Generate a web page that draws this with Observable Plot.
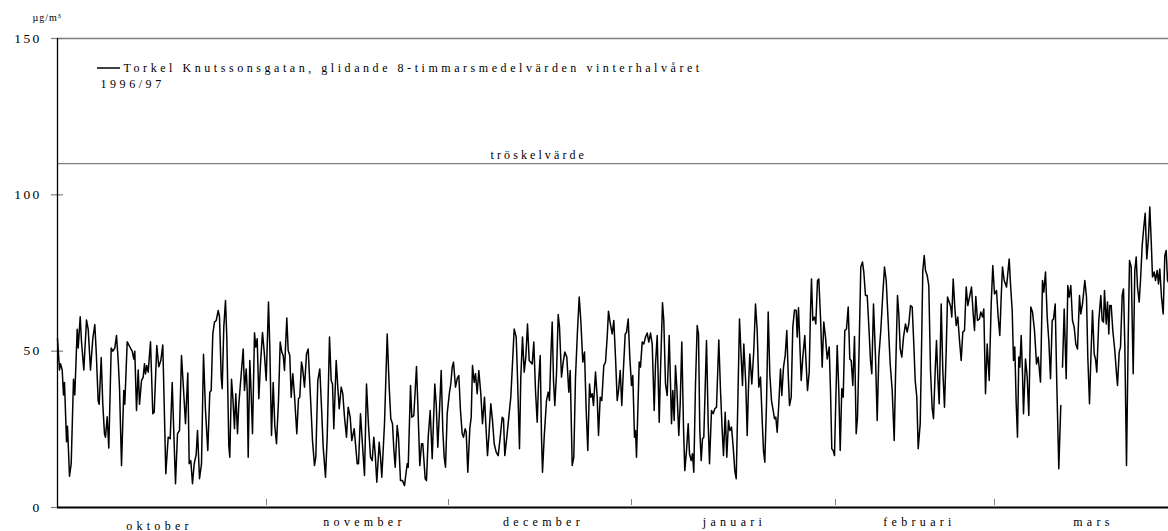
<!DOCTYPE html>
<html><head><meta charset="utf-8">
<script src="https://cdn.jsdelivr.net/npm/d3@7"></script>
<script src="https://cdn.jsdelivr.net/npm/@observablehq/plot@0.6"></script>
<style>
html,body{margin:0;padding:0;background:#fff;}
#chart svg{display:block;}
#chart svg text{font-family:"Liberation Serif","Times New Roman",serif;fill:#000;}
</style></head><body><div id="chart"></div>
<script>
// time index (≈4-hour steps from 1 Oct 1996) and 8-hour moving-average concentration (µg/m³)
const t = [
0,2,3,4.7,6,7,9,10,12,13.7,
16,17.3,19.7,20.7,22.7,24,26.3,29,30.7,33,
35.3,37.3,38.7,40.7,41.7,43.7,45.3,47,48,49.7,
51.3,53.7,55.3,57.3,59,60.7,62,64,66.3,67.3,
69.7,71.3,73,74.7,76.3,77.3,79,80.7,82,84,
85.7,87,88,89.3,90.7,93,95.3,96.7,99.3,101.3,
103.3,105.3,106.7,108.3,110.7,112.7,114.7,116.7,118,120,
122,124,125.7,128,130.3,131.7,133.3,135,136.7,138.7,
140,142,144,146,148,150.3,152.3,153.7,155.3,157,
158.7,160.7,162,163.7,164.7,166.3,168,169.3,171.3,172.3,
174,175.3,177,178.3,180,181.3,183.3,185.7,
187,188.7,189.7,190.7,192.3,193.3,195,197,198.3,199.7,
201.3,203,205,207,208.7,211,212.3,214,215.7,217.3,
219,221,222.7,224.3,225.7,227,229.3,230.7,232.3,233.7,
235.3,237,239.3,241,242.3,244,245,247,249,250.7,
252,253.3,255,257,258.3,260.3,262.3,264,265.7,268,
269.7,272,273.7,275,276.3,278.7,280.3,281.7,283.7,285.3,
287,289,290.7,292.7,294.3,296.7,298,299.7,301,303,
304.7,307,309,311,313,314.7,316.3,317.7,319.3,321.7,
323,324.3,327,329.7,331.7,333.3,335,336.3,337.7,339.7,
341,343,345,347,349.7,350.7,353,354.3,356.3,359,
360.3,362.3,364,365.3,367.7,369,
370.7,372.7,374.7,377.3,378.7,380.3,382,383.7,385.3,386.7,
388,389.7,392,393.3,394.7,396,398,399.7,401.3,403,
404.7,406,407.7,408.7,410.3,412.3,413.7,415,416.7,418,
419.7,421.3,423.3,425,427,428.3,430,431.3,433.3,435,
436.7,438.7,440.7,442.7,444.7,446,447.3,449.3,451.3,453.3,
455.3,456.7,458.7,460,462,463.3,465,466.7,468.3,470,
471.7,473,474.7,476.3,478,479.7,481,482.7,484,485,
486.7,489,490.7,492,493.3,494.7,496,497.3,499,500.7,
502,504,505.7,507.3,509.3,511.3,512.7,514.7,516.3,518,
520,521.7,523.3,525.3,527,528.7,530.3,532,533.3,534.7,
536,538,539.7,541,542.7,544.3,546.3,548,549.7,551,
552.3,
554.7,556.3,558,559.7,561,562.7,564.3,565.7,567.7,569,
570.7,572.3,574,575.3,577,578,579,580.7,581.7,583,
584.7,586.3,588,589.7,591.3,593,594.7,596.7,598,599.7,
601.7,603,605,606.3,608,609.7,611.7,613,614,615.3,
616.7,618,619.3,621.3,622.7,624.3,626,627.3,629,630.7,
632,633.7,635,636.3,638,639.7,641,642.3,643.7,645,
646.3,647.7,649,650.7,652,654,655.7,657.3,659,661.3,
663,664.7,666,667.7,669.3,671,672.3,674,675.7,677.3,
678.7,680.3,682,683.7,685,686.3,688.3,689.7,691,692.3,
694.3,696.3,698,699.7,701.3,703,704.7,706,707.3,709,
710.7,712.3,714,715.7,717,718.3,719.7,721.3,723,724.3,
726,727.7,729.3,730.7,732,733.7,735.3,737,738.7,739.7,
741,
743.7,745.3,747.3,748.3,750,751.7,753,754,755.3,757,
758.3,760,761.3,763,764.7,766.3,768,769.7,771.7,773,
774.3,775.7,777,778.3,779.7,781.3,782.7,784.3,785.7,787.3,
789,790.7,792.3,793.7,795.3,797,798.7,800,801.7,803.3,
805,806.3,808,809.7,811.3,813,814.3,816,818,819.7,
821.3,823.3,825.3,827,828.7,830.3,832.7,834.7,836.7,838,
840,841.3,842.7,844.3,846,848,849.7,851.3,853,854.7,
856.3,857.7,859.3,860.7,862.7,864,865.3,866.7,868,869.7,
871.3,873,874.7,876,877.7,879,880.3,881.7,883.7,885.3,
887,888.7,890,891.7,893.3,894.3,895.7,897.3,898.7,900.3,
902,903.7,905.3,907,908.7,910.3,912,914,915.7,917,
918.3,920,922,923.3,925,926.3,928,
929.7,931.7,933.7,935.3,937,939,940.7,942.3,943.7,945,
946.7,949,951.7,953,954.7,956,957.3,958.7,960,961.3,
962.3,963.7,965,966,968,969.7,971.3,973.3,975,977,
979,980.7,983,985,986.3,988,989.7,991.3,993,994.7,
996,997.7,999.3,1001.3,1003.3,1004,1005,1006.7,1008.7,1010.3,
1011.7,1013.3,1015,1016.7,1018.3,1020,1022,1023.3,1025,1027.3,
1029,1030.3,1032,1033.3,1035,1036.7,1038,1039.3,1041.3,1043.3,
1044.7,1046,1047,1048.7,1050,1051.3,1052.3,1053.7,1055.3,1057.3,
1059,1060,1061.7,1063,1064.7,1066,1067.3,1069,1070.7,1072,
1073.7,1075.7,1077.3,1078.7,1080,1081.7,1083,1084.7,1086.3,1087.7,
1089.3,1091,1092.3,1093.7,1095,1096.7,1098,1099.7,1101,1102.3,
1104,1105.7,1107.3,1108.7,1110,1111
];
const conc = [
54,44,46,44,36,40,21,26,10,14,
41,36,57,51,61,53,44,60,57,44,
54,58.5,50,34,33,48,33,23.5,22.5,29,
19,51,50,51,55,47,38.5,13.4,37.4,33,
53,52,51,50,47.5,50,31,44,33,40.6,
41.7,46,42.7,45.4,43.3,53,30,30.5,51.8,45,
47,52,33,10.8,22.5,22,40,20,7.6,23.6,
24.6,48.6,39.5,26.8,43,14,15,7.6,14,17,
24.6,9.2,14,49,31,18.2,36.9,37.4,55.5,59.3,
59.8,63,61,41.7,38,57.7,66.2,54.5,19.8,16.1,
41,35.3,25.2,36.4,23.6,33,41,50.7,
37.4,44.3,37.4,16.1,47,39.5,23.6,55.9,51.3,54,
34.8,46,56,48.6,40.6,65.7,51.3,23,40,26.2,
20.4,34.2,52.9,49.7,48.6,43.8,60.6,50.2,48.6,35.3,
42.8,35.8,23.6,34.8,35.3,46.5,44.9,38.5,49.1,50.7,
41.7,33.2,21.4,13.4,16.1,40.6,44.3,32.1,19.3,9.7,
22.5,54.5,40.6,39.5,25.2,47,38.5,31.6,38.5,36.4,
28.9,22.5,32.1,28.9,21.4,25.2,20.4,14,14,30,
21.4,10.2,39.5,26.2,16.1,15,22.5,17.2,8.1,20.9,
16.1,9.7,26.8,55.5,38.5,28.4,26.8,18.8,12.9,26.2,
22.5,8.6,8.6,7,14,12.9,39,28.9,29.4,45.1,
33.2,13.4,20.4,20.4,9.2,8.6,
22.5,31,15.6,39.5,33.2,19.3,31,43.8,24.6,16.1,
12.9,30,36.9,39.5,44.9,46.5,38.5,41.2,42.2,31,
23.6,22.5,25.2,24.1,11.3,25.2,28.9,45.4,40,42.8,
36.4,43.8,36.4,26.8,35.3,26.8,16.6,22.5,33.2,27.8,
20.4,17.7,16.6,22.5,28.9,28.4,16.6,22.5,28.9,35.3,
48.1,57.1,54.5,41.7,18.8,41.7,54.5,43.3,48.1,58.7,
47,46.5,45.9,52.9,37.4,27.3,39.5,48.6,22.5,11.3,
22.5,34.2,36.9,34.2,48.1,59.3,40.6,32.6,42.8,61.7,
57.7,41.7,46.5,49.7,48.1,36.9,43.8,13.4,16.1,41.7,
56.6,67.3,59.8,46.5,49.7,31,18.2,39.5,35.3,36.4,
32.6,43.3,35.3,23,35.3,34.2,45.4,46.5,54.5,62.8,
59.8,
55.5,59.8,48.1,34.2,37.4,43.8,32.6,42.8,55.5,56,
60.3,48.1,39,42.2,22.5,24.6,16.1,35.3,46.5,44.9,
52.9,52.3,54.5,55.8,52.9,55.8,52.3,31,45.9,55,
27.3,43.8,65.5,59.8,39.5,35.8,55,39.5,26.8,37.4,
27.8,45.4,38.5,23,33.2,52.9,25.7,11.8,18.2,26.8,
17.2,15,17.2,11.3,39.5,58.2,55.5,24.6,15,22,
22.5,38.5,53.4,26.8,14,31,30,31.6,32.1,53.6,
37.4,24.6,16.6,30.5,16.1,27.8,24.6,25.7,19.3,11.8,
9.2,33.2,60.3,48.1,39,52.3,39.5,23,38.5,49.1,
39.5,50.2,65.1,56.6,38.5,41.7,27.8,18.2,14.5,33.2,
62.5,42.8,34.2,31,28.4,28.9,24.1,33.2,44.3,35.8,
44.9,48.6,56.6,42.8,32.6,35.3,57.7,63.2,63,54.5,
63.9,
40.6,48.1,55,48.1,37.4,43.3,63,73.1,59.8,60.9,
58.7,72.6,73.1,60.9,44.9,59.3,54.5,47.5,51.3,37.4,
18.8,18.2,16.6,34.2,51.8,37.4,18.2,38,35.3,56.6,
57.1,64.1,47.5,47,39,54.7,23.6,28.9,52.3,76.9,
78.5,75.3,67.8,67.8,58.2,47,42.8,65.1,48.1,27.8,
48.1,56.6,68.3,76.9,72.6,61.9,45.9,37.4,21.4,41.7,
67.8,61.9,50.7,48.1,54.5,58.7,56.1,58.7,64.6,64.1,
52.3,40.6,35.3,18.8,26.8,50.2,75.8,80.6,75.8,74.2,
71,43.8,31.6,28.4,43.8,53.4,41.7,33.2,65.1,43.8,
32.1,50.2,67.3,65.7,64.1,60.9,73.1,64.1,58.2,60.9,
53.4,47,56.1,56.6,70.5,64.6,67.3,70.5,61.9,56.6,
67.5,59.8,60.3,62.5,60.9,63.5,36.4,
52.3,40.6,65.1,77.4,68.3,69.4,60.9,55,67.3,76.9,
72.6,70.5,79.5,71.5,63,47,51.3,33.2,22.5,48.1,
44.9,55,42.8,30,47.5,41.7,29.4,64.1,62.5,56.6,
45.9,48.1,40.1,72.6,68.9,75.3,60.9,53.4,41.2,59.8,
60.3,65.1,39.5,12.4,32.6,null,44.9,63.5,41.2,71,
67.3,71,59.8,57.7,52.3,50.7,67.8,61.9,65.1,72.6,
67.3,48.1,33.2,47,63,49.1,47.5,43.3,59.8,67.8,
59.8,59.3,69.4,58.7,65.7,55.5,64.6,64.6,56.6,50.2,
42.8,39,49.7,51.3,67.8,69.9,52.3,13.4,54.5,79,
76.9,42.8,75.8,80.1,70.5,65.7,72.6,83.8,89.7,94.1,
79.5,86.5,96.1,85.4,73.7,75.3,72.6,75.8,71.5,76.3,
67.3,61.9,80.6,82.2,72.6,72
];
const monthNames = ["oktober","november","december","januari","februari","mars"];
const monthBoundaries = [209, 391, 574, 778, 937];   // time index where each month tick sits
const monthLabelAt = [102, 307, 486, 677, 862, 1036]; // time index where each month name is centred
const tEnd = 1111;
const yTicks = [0, 50, 100, 150];
const threshold = 110;
const thresholdLabel = "tröskelvärde";
const unitLabel = "µg/m³";
const legendLines = ["Torkel Knutssonsgatan, glidande 8-timmarsmedelvärden vinterhalvåret", "1996/97"];

const data = t.map((ti, i) => ({t: ti, v: conc[i]}));
const months = monthNames.map((name, i) => ({name, x: monthLabelAt[i], first: i === 0}));

const plot = Plot.plot({
  width: 1168, height: 531,
  marginLeft: 57, marginRight: 0, marginTop: 38, marginBottom: 24,
  x: {domain: [0, tEnd], axis: null},
  y: {domain: [0, 150], axis: null},
  style: {background: "#fff", overflow: "visible"},
  marks: [
    Plot.ruleY([150], {stroke: "#808080", strokeWidth: 1.3}),
    Plot.ruleY([threshold], {stroke: "#808080", strokeWidth: 1.3}),
    Plot.ruleY(yTicks, {y: d => d, x1: 0, x2: 0, insetLeft: -6, insetRight: -6, stroke: "#808080", strokeWidth: 1.2}),
    Plot.ruleX(monthBoundaries, {x: d => d, y1: 0, y2: 0, insetTop: -2, insetBottom: 8, stroke: "#808080", strokeWidth: 1}),
    Plot.line(data, {x: "t", y: "v", stroke: "#000", strokeWidth: 1.5, strokeLinejoin: "round"}),
    Plot.ruleX([0], {stroke: "#000", strokeWidth: 1.3}),
    Plot.ruleY([0], {stroke: "#000", strokeWidth: 2}),
    Plot.text(yTicks, {y: d => d, text: d => String(d), frameAnchor: "left", dx: -16, textAnchor: "end", fontSize: 13.5, className: "ylab"}),
    Plot.text(months.filter(d => !d.first), {x: "x", y: () => 0, text: "name", dy: 15, fontSize: 12, className: "mlab"}),
    Plot.text(months.filter(d => d.first), {x: "x", y: () => 0, text: "name", dy: 19, fontSize: 12, className: "mlab"}),
    Plot.text([threshold], {y: d => d, text: () => thresholdLabel, frameAnchor: "left", dx: 433, dy: -8, textAnchor: "start", fontSize: 12, className: "tlab"}),
    Plot.text([unitLabel], {text: d => d, frameAnchor: "top-left", lineAnchor: "middle", dx: -25, dy: -21, textAnchor: "start", fontSize: 10, className: "ulab"}),
    Plot.text([legendLines[0]], {text: d => d, frameAnchor: "top-left", lineAnchor: "middle", dx: 66, dy: 30, textAnchor: "start", fontSize: 12, className: "lg"}),
    Plot.text([legendLines[1]], {text: d => d, frameAnchor: "top-left", lineAnchor: "middle", dx: 43, dy: 46, textAnchor: "start", fontSize: 12, className: "lg"})
  ]
});

const svg = d3.select(plot);
svg.selectAll(".ylab text").style("letter-spacing", "2.3px");
svg.selectAll(".mlab text").style("letter-spacing", "4.3px");
svg.selectAll(".tlab text").style("letter-spacing", "3.1px");
svg.selectAll(".ulab text").style("letter-spacing", "1px");
svg.selectAll(".lg text").style("letter-spacing", "3.55px");
// legend swatch
svg.append("line").attr("x1", 97).attr("x2", 120).attr("y1", 68).attr("y2", 68)
  .attr("stroke", "#000").attr("stroke-width", 1.5);

document.getElementById("chart").appendChild(plot);
if (t.length !== conc.length) {
  const p = document.createElement("p"); p.textContent = "length mismatch " + t.length + " vs " + conc.length;
  document.body.appendChild(p);
}
</script>
</body></html>
